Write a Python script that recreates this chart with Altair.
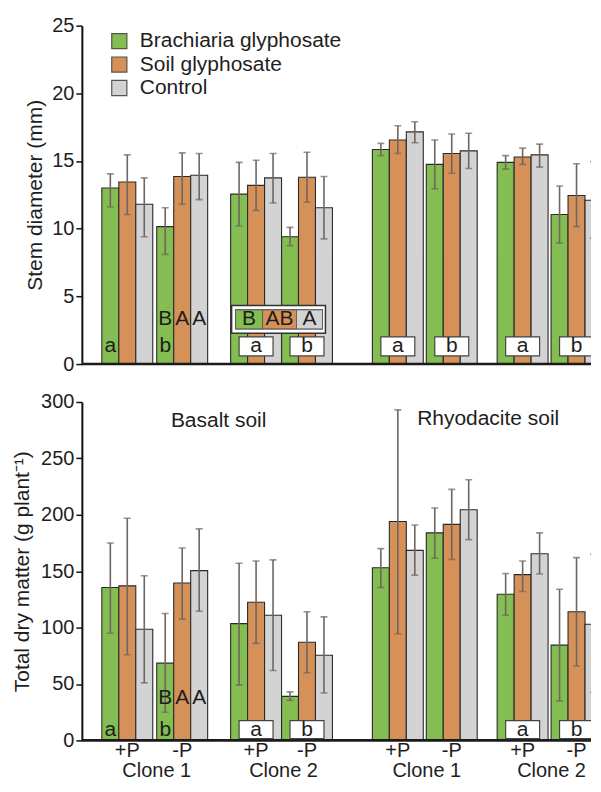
import altair as alt
import pandas as pd

FONT = "Liberation Sans"
TXT = "#1e1e1e"
ERR = "#6f6660"

treatments = ["Brachiaria glyphosate", "Soil glyphosate", "Control"]
colors = ["#84bd51", "#d69159", "#d3d3d3"]

phos = ["+P", "-P", "+P", "-P", "+P", "-P", "+P", "-P"]
clone_labels = ["Clone 1", "Clone 2", "Clone 1", "Clone 2"]
soil_labels = ["Basalt soil", "Rhyodacite soil"]

stem_brach = [13.0, 10.15, 12.55, 9.4, 15.85, 14.75, 14.9, 11.05]
stem_brach_lo = [11.6, 8.1, 10.2, 8.75, 15.4, 12.95, 14.4, 8.95]
stem_brach_hi = [14.05, 11.55, 14.9, 10.1, 16.3, 16.55, 15.4, 13.15]
stem_soil = [13.45, 13.85, 13.2, 13.8, 16.55, 15.55, 15.3, 12.45]
stem_soil_lo = [11.05, 11.8, 11.35, 11.95, 15.55, 14.1, 14.75, 10.15]
stem_soil_hi = [15.45, 15.6, 15.05, 15.65, 17.6, 17.0, 15.95, 14.8]
stem_ctrl = [11.8, 13.95, 13.75, 11.55, 17.15, 15.75, 15.45, 12.1]
stem_ctrl_lo = [9.4, 12.15, 11.9, 9.25, 16.35, 14.45, 14.55, 9.3]
stem_ctrl_hi = [13.75, 15.55, 15.55, 13.85, 17.9, 17.05, 16.25, 14.95]

dm_brach = [135.5, 68.5, 103.5, 39.0, 153.0, 184.0, 129.5, 84.5]
dm_brach_lo = [95.0, 25.0, 49.0, 35.5, 135.5, 161.5, 111.0, 35.0]
dm_brach_hi = [175.0, 112.5, 157.0, 43.0, 170.0, 206.0, 148.0, 134.0]
dm_soil = [137.0, 139.5, 122.5, 87.0, 194.0, 191.5, 147.0, 114.0]
dm_soil_lo = [76.0, 107.5, 86.0, 60.0, 94.5, 160.5, 132.0, 66.0]
dm_soil_hi = [197.0, 170.5, 159.0, 114.0, 293.0, 222.5, 159.0, 162.0]
dm_ctrl = [98.5, 150.5, 111.0, 75.5, 168.5, 204.5, 165.5, 103.0]
dm_ctrl_lo = [51.0, 114.5, 62.0, 42.0, 146.5, 178.0, 147.5, 42.5]
dm_ctrl_hi = [146.0, 187.5, 160.0, 109.5, 191.0, 231.0, 184.0, 165.0]

stem_inbar = [(0, 0, "a"), (1, 0, "b")]
stem_over = [(1, 0, "B"), (1, 1, "A"), (1, 2, "A")]
stem_boxed = [(2, "a"), (3, "b"), (4, "a"), (5, "b"), (6, "a"), (7, "b")]
stem_combo = ["B", "AB", "A"]
dm_inbar = [(0, 0, "a"), (1, 0, "b")]
dm_over = [(1, 0, "B"), (1, 1, "A"), (1, 2, "A")]
dm_boxed = [(2, "a"), (3, "b"), (6, "a"), (7, "b")]

# ---------------- layout ----------------
PW = 510
PH = 339
BW = 17
GROUP_LEFT = [20, 75, 149, 200, 291, 345, 416, 470]
centers = [g + 1.5 * BW for g in GROUP_LEFT]
xscale = alt.Scale(domain=[0, PW], nice=False, zero=False)


def bars_df(series):
    rows = []
    for t, (m, lo, hi) in enumerate(series):
        for g in range(8):
            x0 = GROUP_LEFT[g] + t * BW
            rows.append(dict(treatment=treatments[t], x0=x0, x1=x0 + BW, xc=x0 + BW / 2,
                             val=m[g], lo=lo[g], hi=hi[g]))
    return pd.DataFrame(rows)


def panel(series, ymax, ystep, ytitle, extent, inbar, inbar_y, over, over_y, boxed, box_y,
          box_h_px, combo=None, bottom_labels=False, legend=False, soils=None):
    df = bars_df(series)
    u = ymax / PH
    yaxis = alt.Axis(values=list(range(0, ymax + 1, ystep)), grid=False,
                     domainColor="#111", domainWidth=2, tickColor="#111", tickWidth=1.5,
                     tickSize=6, labelFontSize=20, labelFont=FONT, labelColor=TXT,
                     labelPadding=2, title=ytitle, titleFontSize=21, titleFont=FONT,
                     titleFontWeight="normal", titleColor=TXT, titlePadding=6.5,
                     minExtent=extent, maxExtent=extent)
    ysc = alt.Scale(domain=[0, ymax], nice=False)
    leg = (alt.Legend(orient="none", legendX=27, legendY=5, title=None, symbolType="square",
                      symbolSize=230, symbolStrokeWidth=1.2, symbolStrokeColor="#555",
                      symbolOpacity=1, labelFontSize=21, labelFont=FONT, labelColor=TXT,
                      labelOffset=10, rowPadding=1.5, direction="vertical", labelLimit=0,
                      padding=0)
           if legend else None)
    base = alt.Chart(df)
    bars = base.mark_rect(stroke="#2a2a2a", strokeWidth=1.1, clip=True).encode(
        x=alt.X("x0:Q", scale=xscale, axis=None), x2="x1:Q",
        y=alt.Y("val:Q", scale=ysc, axis=yaxis), y2=alt.datum(0),
        color=alt.Color("treatment:N", scale=alt.Scale(domain=treatments, range=colors),
                        legend=leg),
    )
    err = base.mark_rule(color=ERR, strokeWidth=1.6, clip=True).encode(
        x="xc:Q", y="lo:Q", y2="hi:Q")
    cap_hi = base.mark_tick(orient="horizontal", size=7, thickness=1.6, color=ERR,
                            clip=True).encode(x="xc:Q", y="hi:Q")
    cap_lo = base.mark_tick(orient="horizontal", size=7, thickness=1.6, color=ERR,
                            clip=True).encode(x="xc:Q", y="lo:Q")
    baseline = alt.Chart(pd.DataFrame({"z": [0]})).mark_rule(
        color="#1a1a1a", strokeWidth=2.6).encode(y=alt.datum(0))

    let_rows = []
    for g, t, s in inbar:
        let_rows.append(dict(x=GROUP_LEFT[g] + t * BW + BW / 2, y=inbar_y, s=s))
    for g, t, s in over:
        let_rows.append(dict(x=GROUP_LEFT[g] + t * BW + BW / 2, y=over_y, s=s))
    letters = alt.Chart(pd.DataFrame(let_rows)).mark_text(
        fontSize=21, font=FONT, color=TXT, baseline="middle").encode(x="x:Q", y="y:Q", text="s:N")

    hb = box_h_px / 2 * u
    box_rows = [dict(x0=centers[g] - 17, x1=centers[g] + 17, y0=box_y - hb, y1=box_y + hb,
                     xc=centers[g], y=box_y, s=s) for g, s in boxed]
    bdf = pd.DataFrame(box_rows)
    boxes = alt.Chart(bdf).mark_rect(fill="white", stroke="#444", strokeWidth=1.2, clip=True).encode(
        x="x0:Q", x2="x1:Q", y="y0:Q", y2="y1:Q")
    box_txt = alt.Chart(bdf).mark_text(fontSize=21, font=FONT, color=TXT, clip=True,
                                       baseline="middle").encode(x="xc:Q", y="y:Q", text="s:N")
    layers = [bars, err, cap_hi, cap_lo, baseline, letters, boxes, box_txt]

    if combo is not None:
        oy0, oy1 = over_y - 14 * u, over_y + 14 * u
        iy0, iy1 = over_y - 9.5 * u, over_y + 9.5 * u
        left = GROUP_LEFT[2] + 1
        widths = [27, 34, 26]
        crow = []
        xx = left + 4
        for i, w in enumerate(widths):
            crow.append(dict(x0=xx, x1=xx + w, xc=xx + w / 2, s=combo[i], treatment=treatments[i]))
            xx += w
        cdf = pd.DataFrame(crow)
        outer = alt.Chart(pd.DataFrame([dict(x0=left, x1=xx + 3, y0=oy0, y1=oy1)])).mark_rect(
            fill="white", stroke="#333", strokeWidth=1.5).encode(
            x="x0:Q", x2="x1:Q", y="y0:Q", y2="y1:Q")
        inner = alt.Chart(pd.DataFrame([dict(x0=left + 4, x1=xx, y0=iy0, y1=iy1)])).mark_rect(
            fill="white", stroke="#444", strokeWidth=1.2).encode(
            x="x0:Q", x2="x1:Q", y="y0:Q", y2="y1:Q")
        cells = alt.Chart(cdf).mark_rect(stroke="#555", strokeWidth=0.8).encode(
            x="x0:Q", x2="x1:Q", y=alt.datum(iy0), y2=alt.datum(iy1),
            color=alt.Color("treatment:N", scale=alt.Scale(domain=treatments, range=colors),
                            legend=None))
        ctext = alt.Chart(cdf).mark_text(fontSize=21, font=FONT, color=TXT,
                                         baseline="middle").encode(
            x="xc:Q", y=alt.datum(over_y), text="s:N")
        layers += [outer, inner, cells, ctext]

    if soils is not None:
        sdf = pd.DataFrame([dict(x=137, y=soils[0], s=soil_labels[0]),
                            dict(x=407, y=soils[1], s=soil_labels[1])])
        layers.append(alt.Chart(sdf).mark_text(fontSize=21, font=FONT, color=TXT,
                                               baseline="middle").encode(
            x="x:Q", y="y:Q", text="s:N"))

    if bottom_labels:
        pdf = pd.DataFrame(dict(x=centers, s=phos))
        layers.append(alt.Chart(pdf).mark_text(fontSize=20, font=FONT, color=TXT,
                                               baseline="middle").encode(
            x="x:Q", y=alt.value(PH + 11), text="s:N"))
        cdf2 = pd.DataFrame(dict(x=[(centers[2 * i] + centers[2 * i + 1]) / 2 + 2 for i in range(4)],
                                 s=clone_labels))
        layers.append(alt.Chart(cdf2).mark_text(fontSize=20, font=FONT, color=TXT,
                                                baseline="middle").encode(
            x="x:Q", y=alt.value(PH + 31), text="s:N"))

    return alt.layer(*layers).properties(width=PW, height=PH).resolve_legend(color="independent")


top = panel([(stem_brach, stem_brach_lo, stem_brach_hi),
             (stem_soil, stem_soil_lo, stem_soil_hi),
             (stem_ctrl, stem_ctrl_lo, stem_ctrl_hi)],
            25, 5, "Stem diameter (mm)", 30,
            stem_inbar, 1.32, stem_over, 3.3, stem_boxed, 1.3, 19,
            combo=stem_combo, legend=True)

bottom = panel([(dm_brach, dm_brach_lo, dm_brach_hi),
                (dm_soil, dm_soil_lo, dm_soil_hi),
                (dm_ctrl, dm_ctrl_lo, dm_ctrl_hi)],
               300, 50, "Total dry matter (g plant\u207b\u00b9)", 43,
               dm_inbar, 9.6, dm_over, 37.7, dm_boxed, 9.6, 18,
               bottom_labels=True, soils=(283, 285))

chart = alt.vconcat(top, bottom, spacing=18).resolve_scale(color="independent").resolve_legend(
    color="independent").properties(
    padding={"left": 3, "top": 7, "right": 0, "bottom": 0}
).configure_view(stroke=None)

chart.save("out.html", embed_options={"renderer": "svg", "actions": False})
